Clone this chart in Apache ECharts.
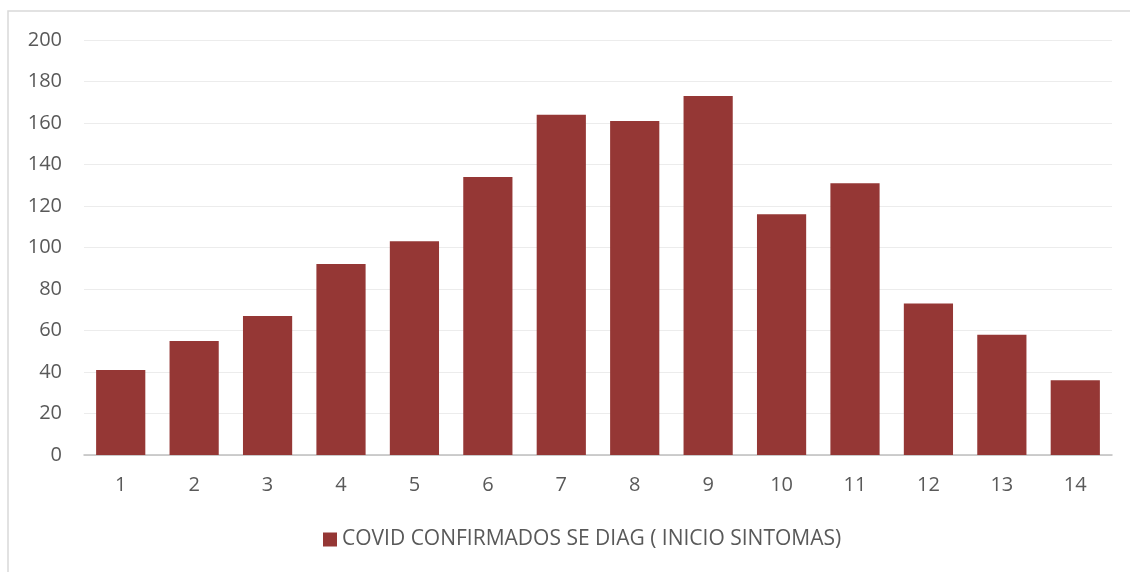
<!DOCTYPE html>
<html lang="es">
<head>
    <meta charset="UTF-8">
    <title>COVID confirmados</title>
    <script src="https://cdn.jsdelivr.net/npm/echarts@6/dist/echarts.min.js"></script>
    <style>
        html, body { margin: 0; padding: 0; background: #fff; overflow: hidden; }
        #chart { width: 1130px; height: 572px; }
    </style>
</head>
<body>
    <div id="chart"></div>
    <script>
    // datos
    const categorias = ['1','2','3','4','5','6','7','8','9','10','11','12','13','14'];
    const confirmados = [41, 55, 67, 92, 103, 134, 164, 161, 173, 116, 131, 73, 58, 36];
    const nombreSerie = 'COVID CONFIRMADOS SE DIAG ( INICIO SINTOMAS)';

    const chart = echarts.init(document.getElementById('chart'));
    chart.setOption({
      animation: false,
      textStyle: { fontFamily: '"Open Sans", sans-serif', color: '#595959' },
      graphic: [{
        type: 'rect',
        shape: { x: 8, y: 11, width: 1140, height: 620 },
        style: { fill: 'none', stroke: '#d9d9d9', lineWidth: 1.5 },
        silent: true
      }],
      grid: { left: 84, right: 18, top: 40, bottom: 117 },
      legend: {
        data: [nombreSerie],
        bottom: 17,
        left: 318,
        itemWidth: 14, itemHeight: 14, itemGap: 6,
        icon: 'rect',
        textStyle: { fontSize: 21, color: '#595959', fontFamily: '"Open Sans", sans-serif' }
      },
      xAxis: {
        type: 'category',
        data: categorias,
        axisLine: { lineStyle: { color: '#bfbfbf', width: 1.5 } },
        axisTick: { show: false },
        axisLabel: { fontSize: 20, color: '#595959', margin: 20 }
      },
      yAxis: {
        type: 'value',
        min: 0, max: 200, interval: 20,
        axisLine: { show: false },
        axisTick: { show: false },
        splitLine: { lineStyle: { color: '#ececec', width: 1 } },
        axisLabel: { fontSize: 20, color: '#595959', margin: 22 }
      },
      series: [{
        name: nombreSerie,
        type: 'bar',
        data: confirmados,
        barCategoryGap: '33%',
        itemStyle: { color: '#953735' }
      }]
    });
    </script>
</body>
</html>
